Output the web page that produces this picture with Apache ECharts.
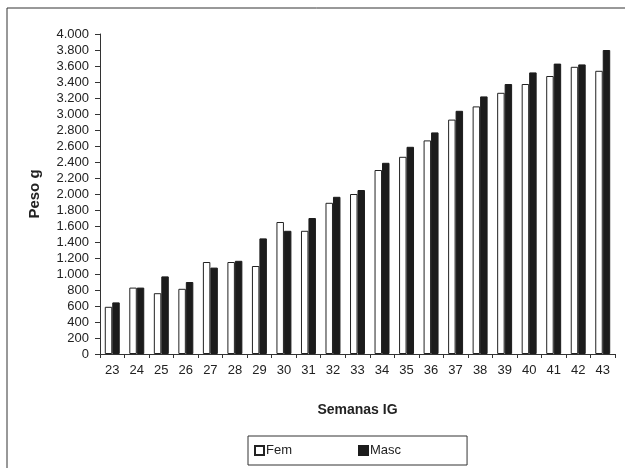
<!DOCTYPE html>
<html>
<head>
<meta charset="utf-8">
<script src="https://cdn.jsdelivr.net/npm/echarts@6/dist/echarts.min.js"></script>
<style>
  html, body { margin: 0; padding: 0; background: #fff; }
  #chart1 { width: 625px; height: 468px; }
</style>
</head>
<body>
<div id="chart1"></div>
<script>
var semanas = ['23', '24', '25', '26', '27', '28', '29', '30', '31', '32', '33',
               '34', '35', '36', '37', '38', '39', '40', '41', '42', '43'];
var fem  = [590, 830, 760, 815, 1150, 1150, 1100, 1650, 1540, 1890, 2000,
            2300, 2465, 2670, 2930, 3095, 3265, 3375, 3475, 3590, 3540];
var masc = [645, 830, 970, 900, 1080, 1165, 1445, 1540, 1700, 1965, 2050,
            2390, 2590, 2770, 3040, 3220, 3375, 3520, 3630, 3620, 3800];

function fmtMiles (v) {
    // separador de milhar com ponto
    return v === 0 ? '0' : (v >= 1000 ? Math.floor(v / 1000) + '.' + ('00' + (v % 1000)).slice(-3) : String(v));
}

var myChart = echarts.init(document.getElementById('chart1'));
var txt = '#222';
var option = {
    backgroundColor: '#fff',
    textStyle: { fontFamily: 'Liberation Sans, Arial, sans-serif' },
    graphic: [{
        type: 'rect',
        shape: { x: 7, y: 8, width: 700, height: 600 },
        style: { fill: 'none', stroke: '#333', lineWidth: 1 },
        silent: true
    }],
    grid: { left: 100, right: 10, top: 34, bottom: 114 },
    legend: {
        left: 248,
        top: 436,
        padding: [8, 66, 8, 6],
        borderColor: '#333',
        borderWidth: 1,
        itemWidth: 9,
        itemHeight: 9,
        itemGap: 66,
        icon: 'rect',
        textStyle: { color: txt, fontSize: 13, padding: [0, 0, 0, -3] },
        data: ['Fem', 'Masc']
    },
    xAxis: {
        type: 'category',
        data: semanas,
        name: 'Semanas IG',
        nameLocation: 'middle',
        nameGap: 49,
        nameTextStyle: { color: txt, fontSize: 14, fontWeight: 'bold' },
        axisLine: { lineStyle: { color: '#333' } },
        axisTick: { show: true, length: 4, alignWithLabel: false, lineStyle: { color: '#333' } },
        axisLabel: { color: txt, fontSize: 13, margin: 10 }
    },
    yAxis: {
        type: 'value',
        min: 0,
        max: 4000,
        interval: 200,
        name: 'Peso g',
        nameLocation: 'middle',
        nameGap: 58,
        nameTextStyle: { color: txt, fontSize: 15, fontWeight: 'bold' },
        axisLine: { show: true, lineStyle: { color: '#333' } },
        axisTick: { show: true, length: 5, lineStyle: { color: '#333' } },
        axisLabel: { color: txt, fontSize: 13, margin: 11, formatter: fmtMiles },
        splitLine: { show: false }
    },
    series: [
        {
            name: 'Fem',
            type: 'bar',
            data: fem,
            barGap: '0%',
            barCategoryGap: '39%',
            itemStyle: { color: '#fff', borderColor: '#222', borderWidth: 1 }
        },
        {
            name: 'Masc',
            type: 'bar',
            data: masc,
            itemStyle: { color: '#1c1c1c', borderColor: '#1c1c1c', borderWidth: 1 }
        }
    ]
};
myChart.setOption(option);
window.onresize = myChart.resize;
</script>
</body>
</html>
